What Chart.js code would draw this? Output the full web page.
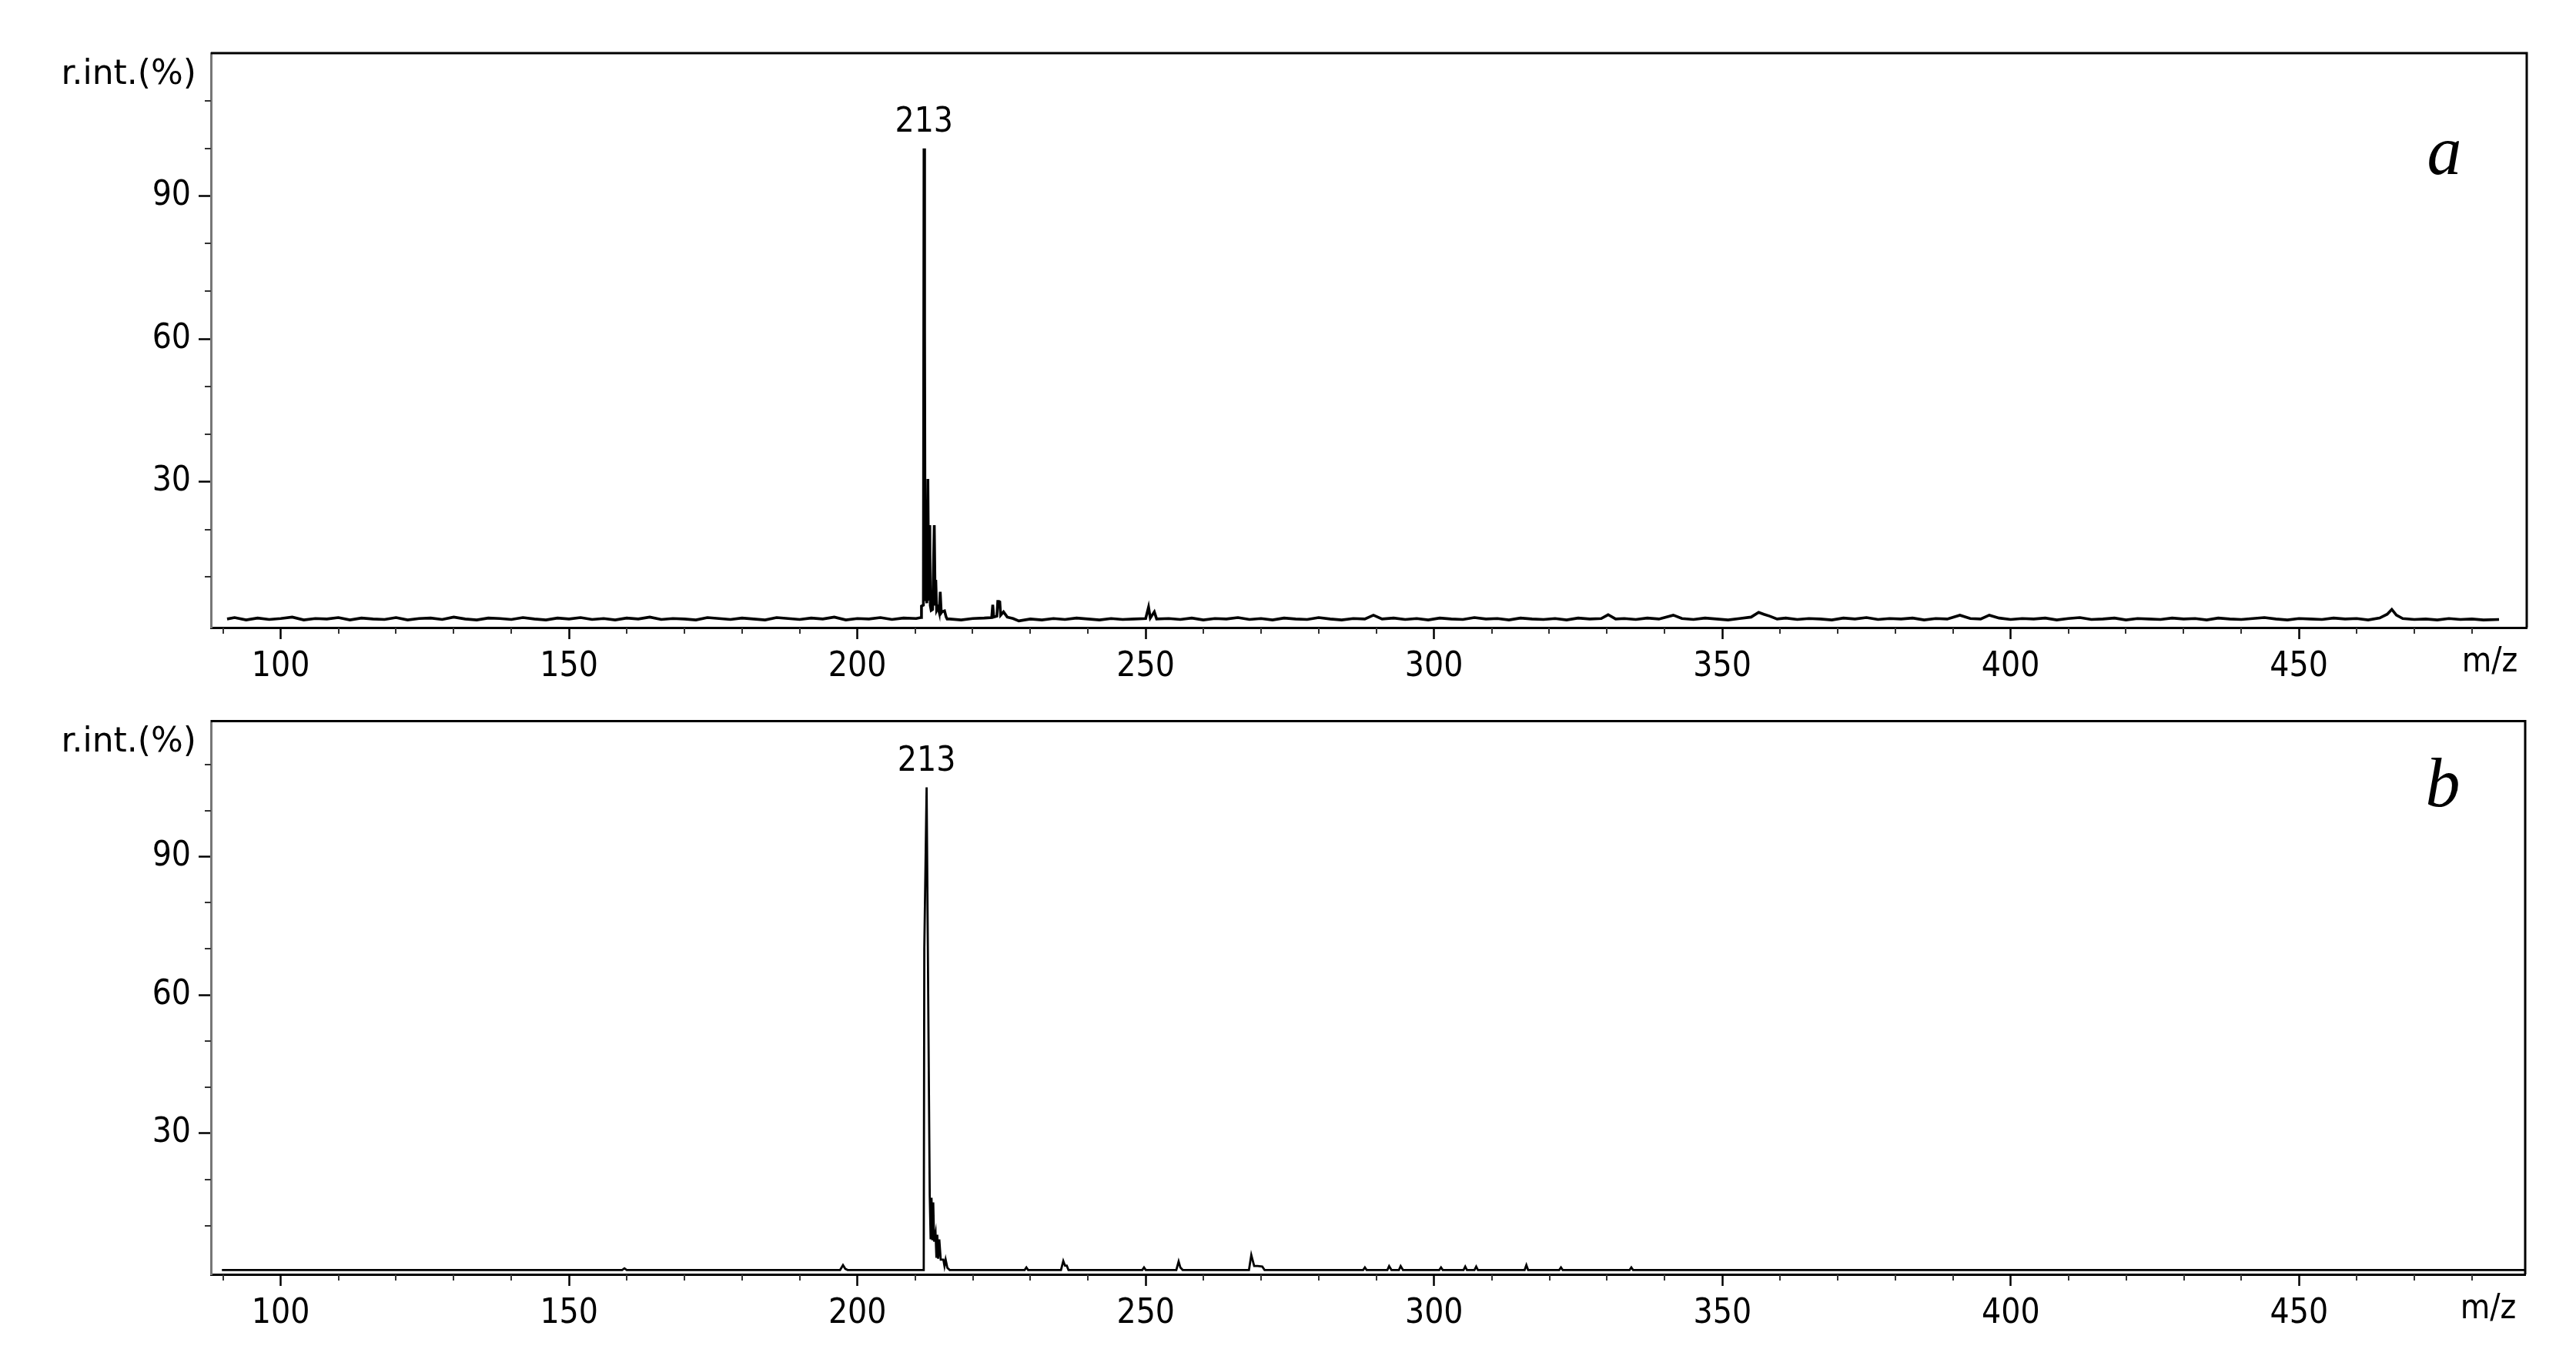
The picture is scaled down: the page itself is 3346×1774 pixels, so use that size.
<!DOCTYPE html>
<html>
<head>
<meta charset="utf-8">
<script src="https://cdn.jsdelivr.net/npm/chart.js@4.4.1/dist/chart.umd.min.js"></script>
<style>
  html, body { margin: 0; padding: 0; background: #fff; }
  #wrap { position: relative; width: 3346px; height: 1774px; }
  canvas { position: absolute; left: 0; }
  #chartA { top: 0; width: 3346px; height: 900px; }
  #chartB { top: 900px; width: 3346px; height: 874px; }
</style>
</head>
<body>
<div id="wrap">
  <canvas id="chartA" width="3346" height="900"></canvas>
  <canvas id="chartB" width="3346" height="874"></canvas>
</div>
<script>
// tick labels
var xTicks = [100, 150, 200, 250, 300, 350, 400, 450];
var yTicks = [30, 60, 90];

// spectrum a (m/z, relative intensity %)
var mzA = [
  90.7, 92, 94, 96, 98, 100, 102, 104, 106, 108,
  110, 112, 114, 116, 118, 120, 122, 124, 126, 128,
  130, 132, 134, 136, 138, 140, 142, 144, 146, 148,
  150, 152, 154, 156, 158, 160, 162, 164, 166, 168,
  170, 172, 174, 176, 178, 180, 182, 184, 186, 188,
  190, 192, 194, 196, 198, 200, 202, 204, 206, 208,
  210.2, 211.0, 211.12, 211.45, 211.56, 211.66, 211.75, 211.92, 212.05, 212.23,
  212.38, 212.5, 212.56, 212.65, 212.8, 213.05, 213.34, 213.5, 213.6, 213.75,
  214.0, 214.2, 214.37, 214.55, 214.67, 215.12, 215.4, 215.57, 216, 218,
  220, 222, 223.3, 223.48, 223.65, 224.2, 224.35, 224.55, 224.7, 224.85,
  225.35, 226, 227, 228, 230, 232, 234, 236, 238, 240,
  242, 244, 246, 248, 250.0, 250.5, 250.8, 251.5, 251.9, 254,
  256, 258, 260, 262, 264, 266, 268, 270, 272, 274,
  276, 278, 280, 282, 284, 286, 288, 289.5, 291, 293,
  295, 297, 299, 301, 303, 305, 307, 309, 311, 313,
  315, 317, 319, 321, 323, 325, 327, 329, 330.2, 331.5,
  333, 335, 337, 339, 341.5, 343, 345, 347, 349, 351,
  353, 355, 356.3, 357.2, 358.2, 359.5, 361, 363, 365, 367,
  369, 371, 373, 375, 377, 379, 381, 383, 385, 387,
  389, 391.2, 393, 394.8, 396.3, 398, 400, 402, 404, 406,
  408, 410, 412, 414, 416, 418, 420, 422, 424, 426,
  428, 430, 432, 434, 436, 438, 440, 442, 444, 446,
  448, 450, 452, 454, 456, 458, 460, 462, 464, 465.3,
  466.1, 466.9, 468, 470, 472, 474, 476, 478, 480, 482,
  484.7
];
var intA = [
  1.2, 1.5, 1.0, 1.4, 1.1, 1.3, 1.6, 1.0, 1.3, 1.2,
  1.5, 1.0, 1.4, 1.2, 1.1, 1.5, 1.0, 1.3, 1.4, 1.1,
  1.6, 1.2, 1.0, 1.4, 1.3, 1.1, 1.5, 1.2, 1.0, 1.4,
  1.2, 1.5, 1.1, 1.3, 1.0, 1.4, 1.2, 1.6, 1.1, 1.3,
  1.2, 1.0, 1.5, 1.3, 1.1, 1.4, 1.2, 1.0, 1.5, 1.3,
  1.1, 1.4, 1.2, 1.6, 1.0, 1.3, 1.2, 1.5, 1.1, 1.4,
  1.3, 1.5, 3.9, 4.1, 100, 62, 5.0, 7.2, 4.5, 30.6,
  5.0, 18.2, 20.9, 4.0, 3.0, 3.2, 20.9, 4.0, 9.4, 3.0,
  3.6, 2.6, 6.9, 2.5, 2.7, 2.9, 1.6, 1.2, 1.2, 1.0,
  1.3, 1.4, 1.5, 4.2, 1.6, 1.8, 4.9, 4.9, 4.8, 2.0,
  2.7, 1.6, 1.3, 0.8, 1.2, 1.0, 1.3, 1.1, 1.4, 1.2,
  1.0, 1.3, 1.1, 1.2, 1.3, 3.7, 1.4, 2.7, 1.2, 1.3,
  1.1, 1.4, 1.0, 1.3, 1.2, 1.5, 1.1, 1.3, 1.0, 1.4,
  1.2, 1.1, 1.5, 1.2, 1.0, 1.3, 1.2, 2.0, 1.2, 1.4,
  1.1, 1.3, 1.0, 1.4, 1.2, 1.1, 1.5, 1.2, 1.3, 1.0,
  1.4, 1.2, 1.1, 1.3, 1.0, 1.4, 1.2, 1.3, 2.1, 1.2,
  1.3, 1.1, 1.4, 1.2, 2.0, 1.3, 1.1, 1.4, 1.2, 1.0,
  1.3, 1.6, 2.6, 2.2, 1.8, 1.2, 1.4, 1.1, 1.3, 1.2,
  1.0, 1.4, 1.2, 1.5, 1.1, 1.3, 1.2, 1.4, 1.0, 1.3,
  1.2, 2.0, 1.3, 1.2, 2.0, 1.4, 1.1, 1.3, 1.2, 1.4,
  1.0, 1.3, 1.5, 1.1, 1.2, 1.4, 1.0, 1.3, 1.2, 1.1,
  1.4, 1.2, 1.3, 1.0, 1.4, 1.2, 1.1, 1.3, 1.5, 1.2,
  1.0, 1.3, 1.2, 1.1, 1.4, 1.2, 1.3, 1.0, 1.4, 2.2,
  3.2, 2.0, 1.3, 1.1, 1.2, 1.0, 1.3, 1.1, 1.2, 1.0,
  1.1
];

// spectrum b
var mzB = [
  89.8, 159.2, 159.6, 160.0, 197.0, 197.5, 197.9, 198.3, 211.5, 211.6,
  212.0, 212.54, 212.7, 212.85, 213.0, 213.15, 213.3, 213.55, 213.7, 213.85,
  214.0, 214.2, 214.45, 214.9, 215.1, 215.3, 215.6, 216.0, 229.0, 229.3,
  229.6, 235.3, 235.7, 236.0, 236.3, 236.6, 249.4, 249.7, 250.0, 255.3,
  255.7, 256.0, 256.4, 267.9, 268.3, 268.8, 269.4, 270.2, 270.6, 287.7,
  288.0, 288.3, 291.9, 292.2, 292.6, 293.9, 294.2, 294.6, 300.9, 301.2,
  301.5, 305.1, 305.4, 305.7, 307.0, 307.3, 307.6, 315.7, 316.0, 316.3,
  321.7, 322.0, 322.3, 333.9, 334.2, 334.5, 489.2
];
var intB = [
  0.35, 0.35, 0.7, 0.35, 0.35, 1.4, 0.6, 0.35, 0.35, 70,
  105, 16.6, 7.0, 16.0, 6.8, 15.0, 6.5, 8.3, 3.0, 8.0,
  2.8, 7.0, 2.6, 2.6, 1.2, 2.6, 0.8, 0.35, 0.35, 0.9,
  0.35, 0.35, 2.3, 1.3, 1.3, 0.35, 0.35, 0.9, 0.35, 0.35,
  2.2, 0.9, 0.35, 0.35, 3.6, 1.2, 1.2, 1.1, 0.35, 0.35,
  0.9, 0.35, 0.35, 1.2, 0.35, 0.35, 1.2, 0.35, 0.35, 0.9,
  0.35, 0.35, 1.1, 0.35, 0.35, 1.1, 0.35, 0.35, 1.4, 0.35,
  0.35, 0.9, 0.35, 0.35, 0.9, 0.35, 0.35
];

// labelled peaks
var peakMzA = [211.56], peakIntA = [100], peakTextA = ['213'];
var peakMzB = [212.0], peakIntB = [105], peakTextB = ['213'];

var FONT = '"DejaVu Sans Condensed", "DejaVu Sans", sans-serif';
var FSIZE = 44;

function toPoints(xs, ys) {
    var pts = [];
    for (var i = 0; i < xs.length; i++) pts.push({ x: xs[i], y: ys[i] });
    return pts;
}

function decor(letter, letterDrop, peakMz, peakInt, peakText) {
    return {
        id: 'decor',
        afterDraw: function (chart) {
            var ctx = chart.ctx, a = chart.chartArea;
            var sx = chart.scales.x, sy = chart.scales.y;
            ctx.save();
            // top and right of the frame
            ctx.strokeStyle = '#000';
            ctx.lineWidth = 3;
            ctx.beginPath();
            ctx.moveTo(a.left, a.top);
            ctx.lineTo(a.right, a.top);
            ctx.lineTo(a.right, a.bottom);
            ctx.stroke();

            // minor ticks
            ctx.lineWidth = 2;
            ctx.strokeStyle = '#333';
            ctx.beginPath();
            for (var v = Math.ceil(sx.min / 10) * 10; v <= sx.max; v += 10) {
                if (v % 50 === 0) continue;
                var px = Math.round(sx.getPixelForValue(v));
                ctx.moveTo(px, a.bottom);
                ctx.lineTo(px, a.bottom + 8);
            }
            for (var w = 10; w <= sy.max; w += 10) {
                if (w % 30 === 0) continue;
                var py = Math.round(sy.getPixelForValue(w));
                ctx.moveTo(a.left - 8, py);
                ctx.lineTo(a.left, py);
            }
            ctx.stroke();

            ctx.fillStyle = '#000';
            ctx.font = FSIZE + 'px "DejaVu Sans", sans-serif';
            ctx.textAlign = 'right';
            ctx.textBaseline = 'alphabetic';
            ctx.fillText('r.int.(%)', a.left - 19, a.top + 40);

            ctx.font = FSIZE + 'px ' + FONT;
            ctx.textAlign = 'center';
            ctx.textBaseline = 'middle';
            ctx.fillText('m/z', a.right - 48, a.bottom + 46);

            ctx.textBaseline = 'alphabetic';
            for (var i = 0; i < peakMz.length; i++) {
                ctx.fillText(peakText[i], sx.getPixelForValue(peakMz[i]),
                    sy.getPixelForValue(peakInt[i]) - 22);
            }

            ctx.font = 'italic 90px "Liberation Serif", serif';
            ctx.fillText(letter, a.right - 107, a.top + letterDrop);
            ctx.restore();
        }
    };
}

function makeChart(id, mz, inten, opt) {
    var ctx = document.getElementById(id).getContext('2d');
    return new Chart(ctx, {
        type: 'line',
        data: {
            datasets: [{
                data: toPoints(mz, inten),
                borderColor: '#000',
                borderWidth: opt.lineWidth,
                pointRadius: 0,
                tension: 0,
                fill: false
            }]
        },
        options: {
            responsive: false,
            animation: false,
            layout: { padding: { top: opt.padTop, right: opt.padRight, left: 0, bottom: 0 } },
            plugins: { legend: { display: false }, tooltip: { enabled: false } },
            scales: {
                x: {
                    type: 'linear',
                    min: 87.9,
                    max: opt.xMax,
                    afterBuildTicks: function (s) { s.ticks = xTicks.map(function (v) { return { value: v }; }); },
                    afterFit: function (s) { s.height = opt.xHeight; },
                    ticks: { autoSkip: false, maxRotation: 0, padding: 10, color: '#000', font: { family: FONT, size: FSIZE } },
                    grid: { drawOnChartArea: false, tickLength: 15, tickWidth: 2.5, tickColor: '#000' },
                    border: { color: '#000', width: 3 }
                },
                y: {
                    min: opt.yMin,
                    max: opt.yMax,
                    afterBuildTicks: function (s) { s.ticks = yTicks.map(function (v) { return { value: v }; }); },
                    afterFit: function (s) { s.width = 274; },
                    ticks: { padding: 10, color: '#000', font: { family: FONT, size: FSIZE } },
                    grid: { drawOnChartArea: false, tickLength: 16, tickWidth: 2.5, tickColor: '#000' },
                    border: { color: '#777', width: 3 }
                }
            }
        },
        plugins: [decor(opt.letter, opt.letterDrop, opt.peakMz, opt.peakInt, opt.peakText)]
    });
}

makeChart('chartA', mzA, intA, {
    lineWidth: 3.6, padTop: 69, padRight: 64, xHeight: 85, xMax: 489.5,
    yMin: -0.6, yMax: 120, letter: 'a', letterDrop: 157,
    peakMz: peakMzA, peakInt: peakIntA, peakText: peakTextA
});
makeChart('chartB', mzB, intB, {
    lineWidth: 2.8, padTop: 9, padRight: 66, xHeight: 119, xMax: 489.2,
    yMin: -0.6, yMax: 119.4, letter: 'b', letterDrop: 111,
    peakMz: peakMzB, peakInt: peakIntB, peakText: peakTextB
});
</script>
</body>
</html>
